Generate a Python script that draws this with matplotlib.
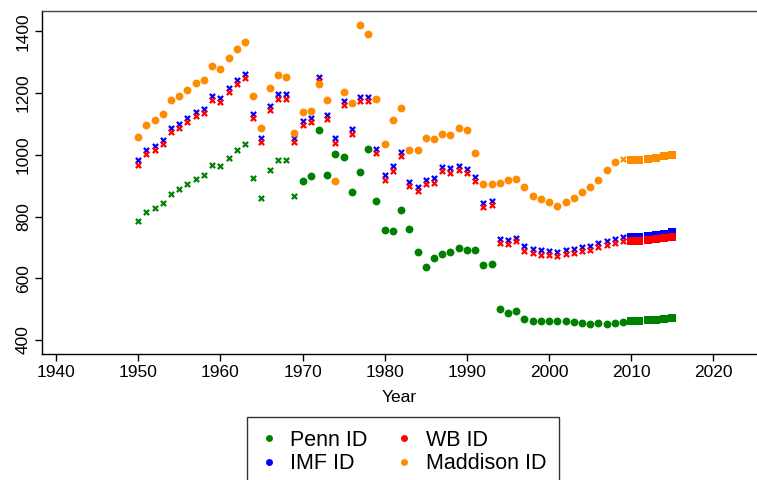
import numpy as np
import matplotlib
matplotlib.use("Agg")
import matplotlib.pyplot as plt
from matplotlib.lines import Line2D

plt.rcParams['font.family'] = ['Liberation Sans', 'DejaVu Sans']

years = np.arange(1950, 2016)

penn = [785, 814, 827, 844, 874, 888, 906, 923, 933, 966,
        964, 991, 1015, 1034, 925, 860, 950, 982, 982, 865,
        914, 931, 1080, 933, 1004, 994, 881, 945, 1019, 851,
        757, 752, 821, 759, 684, 637, 667, 679, 685, 698,
        691, 691, 644, 646, 500, 489, 493, 467, 463, 462,
        462, 462, 462, 457, 455, 453, 455, 453, 455, 459,
        460, 462, 464, 465, 468, 470]

imf = [982, 1016, 1030, 1049, 1087, 1101, 1120, 1139, 1150, 1189,
       1185, 1215, 1242, 1263, 1133, 1054, 1158, 1196, 1196, 1053,
       1111, 1120, 1251, 1128, 1053, 1175, 1083, 1187, 1187, 1020,
       933, 963, 1008, 912, 897, 918, 924, 960, 957, 964,
       954, 928, 845, 850, 728, 724, 732, 703, 694, 691,
       688, 685, 693, 696, 700, 706, 713, 721, 728, 733,
       733, 734, 738, 740, 744, 749]

wb = [968, 1003, 1017, 1036, 1073, 1088, 1107, 1126, 1136, 1176,
      1172, 1202, 1229, 1250, 1119, 1040, 1146, 1181, 1181, 1040,
      1096, 1106, 1239, 1115, 1039, 1161, 1069, 1174, 1174, 1006,
      919, 949, 995, 899, 884, 906, 910, 946, 942, 951,
      940, 914, 832, 837, 715, 712, 720, 689, 681, 677,
      675, 672, 679, 683, 689, 693, 700, 707, 715, 721,
      721, 721, 724, 727, 731, 734]

madd = [1058, 1098, 1113, 1133, 1177, 1191, 1211, 1233, 1242, 1288,
        1278, 1313, 1342, 1365, 1192, 1088, 1217, 1259, 1253, 1072,
        1139, 1143, 1230, 1177, 914, 1203, 1167, 1421, 1391, 1181,
        1036, 1113, 1152, 1014, 1014, 1056, 1052, 1068, 1065, 1086,
        1082, 1006, 906, 907, 910, 918, 921, 896, 867, 858,
        847, 834, 847, 860, 879, 896, 919, 950, 978, 987,
        984, 984, 988, 991, 996, 999]

# marker kind per year: x, dot or square
penn_kind = np.where(years < 1970, 'x', np.where(years < 2010, 'o', 's'))
imf_kind = np.where(years < 2010, 'x', 's')
wb_kind = imf_kind
madd_kind = np.where(years < 2009, 'o', np.where(years < 2010, 'x', 's'))

names = ['Penn ID', 'IMF ID', 'WB ID', 'Maddison ID']
colors = ['#008000', '#0000ff', '#ff0000', '#ff8c00']
series = [penn, imf, wb, madd]
kinds = [penn_kind, imf_kind, wb_kind, madd_kind]

fig = plt.figure(figsize=(7.57, 4.8), dpi=100)
ax = fig.add_axes([42/757, 126/480, 1 - 42/757, 343/480])

sizes = {'x': 14, 'o': 32, 's': 34}
for vals, kind, c in zip(series, kinds, colors):
    vals = np.array(vals)
    for m in ['x', 'o', 's']:
        sel = kind == m
        if sel.any():
            ax.scatter(years[sel], vals[sel], marker=m, s=sizes[m], color=c,
                       linewidths=1.6 if m == 'x' else 0, zorder=3)

ax.set_xlim(1938.3, 2025.3)
ax.set_ylim(354.6, 1466)
ax.set_xticks(range(1940, 2030, 10))
ax.set_yticks(range(400, 1500, 200))
for lab in ax.get_yticklabels():
    lab.set_rotation(90)
    lab.set_va('center')
ax.tick_params(labelsize=12.5, length=5, width=1, pad=3)
ax.spines['right'].set_visible(False)
for s in ['left', 'bottom', 'top']:
    ax.spines[s].set_linewidth(1)
ax.spines['top'].set_color('#444444')
ax.set_xlabel('Year', fontsize=12.5, labelpad=7)

handles = [Line2D([], [], linestyle='none', marker='o', markersize=5,
                  color=c, markeredgewidth=0) for c in colors]
fig.legend(handles, names, ncol=2, loc='upper left',
           bbox_to_anchor=(247/757, 1 - 417/480), fontsize=15.5,
           frameon=True, fancybox=False, edgecolor='black',
           handlelength=0.8, handletextpad=0.6, columnspacing=1.3,
           labelspacing=0.1, borderpad=0.6, borderaxespad=0)

fig.savefig('out.png', dpi=100)
